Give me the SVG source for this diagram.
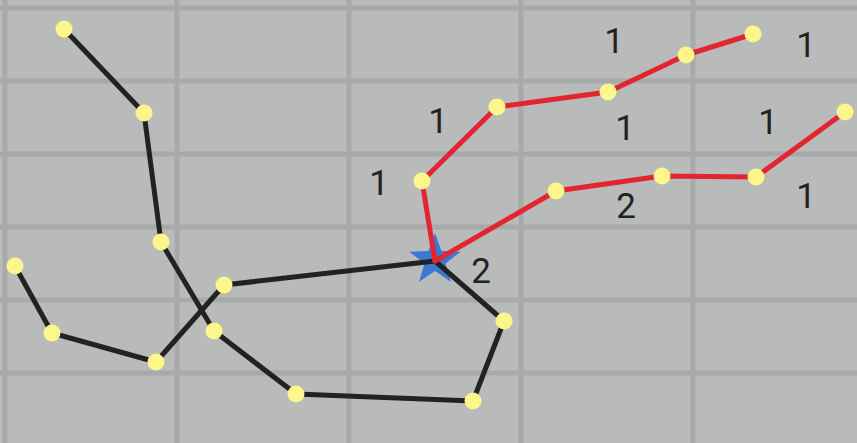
<svg xmlns="http://www.w3.org/2000/svg" width="857" height="443" viewBox="0 0 857 443">
<style>
.bg{fill:#b8bbba}
.grid line{stroke:#a9a9a9;stroke-width:5}
.blk{stroke:#222;stroke-width:5;fill:none;stroke-linecap:round;stroke-linejoin:round}
.red{stroke:#e2252e;stroke-width:5;fill:none;stroke-linecap:round;stroke-linejoin:round}
.node{fill:#fdf68a}
.lbl{font-family:Roboto,"Open Sans","Liberation Sans",sans-serif;font-size:35px;fill:#222;text-anchor:middle}
.star{fill:#3b78cf}
</style>
<rect class="bg" x="0" y="0" width="857" height="443"/>
<g class="grid">
<line x1="5" y1="0" x2="5" y2="443"/>
<line x1="177" y1="0" x2="177" y2="443"/>
<line x1="349" y1="0" x2="349" y2="443"/>
<line x1="521" y1="0" x2="521" y2="443"/>
<line x1="693" y1="0" x2="693" y2="443"/>
<line x1="0" y1="8" x2="857" y2="8"/>
<line x1="0" y1="81" x2="857" y2="81"/>
<line x1="0" y1="154" x2="857" y2="154"/>
<line x1="0" y1="227" x2="857" y2="227"/>
<line x1="0" y1="300" x2="857" y2="300"/>
<line x1="0" y1="373" x2="857" y2="373"/>
</g>
<g id="start">
<polygon class="star" points="435,233 441.5,251.1 460.7,251.7 445.5,263.4 450.9,281.8 435,271 419.1,281.8 424.5,263.4 409.3,251.7 428.5,251.1"/>
</g>
<g id="connectors">
<polyline class="blk" points="64,29 144,113 161,242 214,331 296,394 473,401 504,321 435,261"/>
<polyline class="blk" points="435,261 224,285 156,362 52,333 15,266"/>
<polyline class="red" points="435,261 422,181 497,107 608,92 686,55 753,34"/>
<polyline class="red" points="435,261 556,191 662,176 756,177 845,112"/>
</g>
<g id="n1"><circle class="node" cx="64" cy="29" r="8.5"/></g>
<g id="n2"><circle class="node" cx="144" cy="113" r="8.5"/></g>
<g id="n3"><circle class="node" cx="161" cy="242" r="8.5"/></g>
<g id="n4"><circle class="node" cx="214" cy="331" r="8.5"/></g>
<g id="n5"><circle class="node" cx="296" cy="394" r="8.5"/></g>
<g id="n6"><circle class="node" cx="473" cy="401" r="8.5"/></g>
<g id="n7"><circle class="node" cx="504" cy="321" r="8.5"/></g>
<g id="n8"><circle class="node" cx="224" cy="285" r="8.5"/></g>
<g id="n9"><circle class="node" cx="156" cy="362" r="8.5"/></g>
<g id="n10"><circle class="node" cx="52" cy="333" r="8.5"/></g>
<g id="n11"><circle class="node" cx="15" cy="266" r="8.5"/></g>
<g id="r1"><circle class="node" cx="422" cy="181" r="8.5"/></g>
<g id="r2"><circle class="node" cx="497" cy="107" r="8.5"/></g>
<g id="r3"><circle class="node" cx="608" cy="92" r="8.5"/></g>
<g id="r4"><circle class="node" cx="686" cy="55" r="8.5"/></g>
<g id="r5"><circle class="node" cx="753" cy="34" r="8.5"/></g>
<g id="r6"><circle class="node" cx="556" cy="191" r="8.5"/></g>
<g id="r7"><circle class="node" cx="662" cy="176" r="8.5"/></g>
<g id="r8"><circle class="node" cx="756" cy="177" r="8.5"/></g>
<g id="r9"><circle class="node" cx="845" cy="112" r="8.5"/></g>
<g id="labels">
<text class="lbl" x="614" y="53">1</text>
<text class="lbl" x="806" y="57">1</text>
<text class="lbl" x="438" y="133">1</text>
<text class="lbl" x="625" y="140">1</text>
<text class="lbl" x="768" y="134">1</text>
<text class="lbl" x="379" y="195">1</text>
<text class="lbl" x="626" y="218">2</text>
<text class="lbl" x="806" y="208">1</text>
<text class="lbl" x="481" y="283">2</text>
</g>
</svg>
